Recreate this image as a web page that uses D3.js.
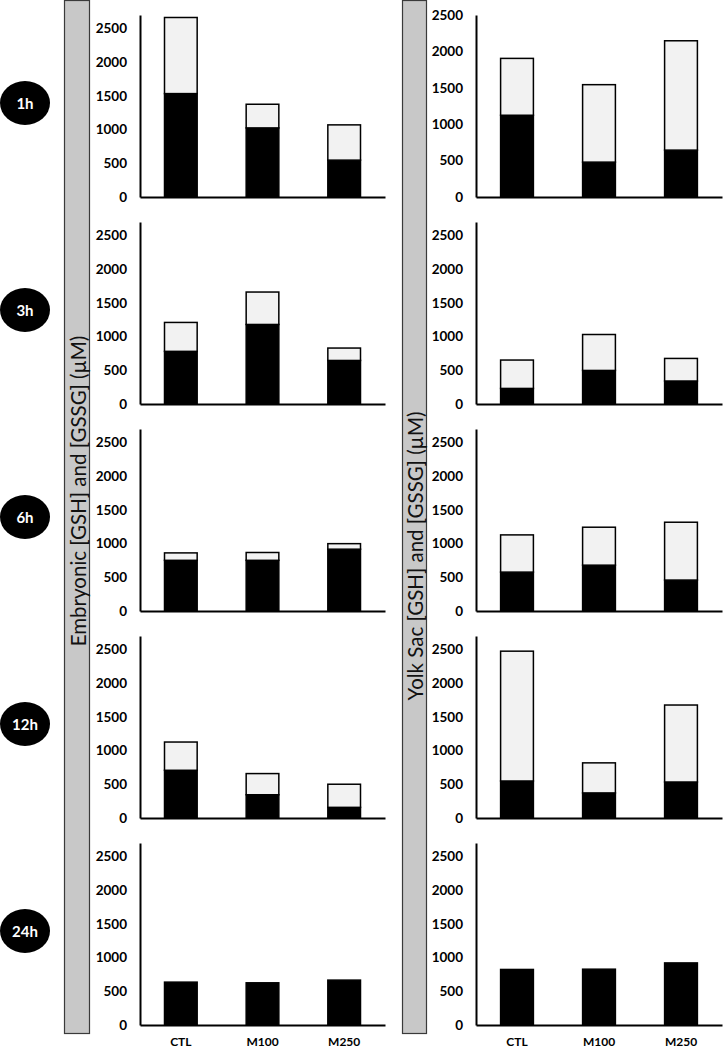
<!DOCTYPE html>
<html>
<head>
<meta charset="utf-8">
<script src="https://cdn.jsdelivr.net/npm/d3@7"></script>
<style>
  html, body { margin: 0; padding: 0; background: #fff; }
  svg { display: block; }
</style>
</head>
<body>
<script>
// ---------- DATA ----------
const categories = ["CTL", "M100", "M250"];
const timeLabels = ["1h", "3h", "6h", "12h", "24h"];
const yTicks = [0, 500, 1000, 1500, 2000, 2500];

// Embryonic (left column): lower black segment and upper light segment, per time point
const embryoGSH  = [[1534, 1025, 547], [781, 1180, 646], [752, 752, 917], [708, 345, 158], [636, 626, 666]];
const embryoGSSG = [[1129, 351, 523], [429, 481, 184], [110, 116, 82], [419, 314, 343], [0, 0, 0]];
// Yolk sac (right column)
const yolkGSH  = [[1123, 479, 644], [231, 498, 341], [577, 680, 459], [549, 372, 534], [824, 828, 921]];
const yolkGSSG = [[781, 1064, 1502], [421, 533, 335], [552, 563, 858], [1926, 446, 1142], [0, 0, 0]];

// Axis maxima per panel
const embryoMax = [2700, 2700, 2700, 2700, 2700];
const yolkMax   = [2500, 2700, 2700, 2700, 2700];

const leftTitle  = "Embryonic [GSH] and [GSSG] (µM)";
const rightTitle = "Yolk Sac [GSH] and [GSSG] (µM)";

// ---------- LAYOUT ----------
const W = 723, H = 1050;
const svg = d3.select("body").append("svg").attr("width", W).attr("height", H);
const FONT = "Lato, 'Open Sans', sans-serif";

const rowTop0 = 15, rowStep = 207, plotH = 182;

const columns = [
  { gsh: embryoGSH, gssg: embryoGSSG, max: embryoMax, x0: 140, x1: 385, barX: 64, barW: 25, title: leftTitle, titleY: 491 },
  { gsh: yolkGSH,   gssg: yolkGSSG,   max: yolkMax,   x0: 476, x1: 722, barX: 402, barW: 24, title: rightTitle, titleY: 556 }
];

// gray label bars
columns.forEach(c => {
  svg.append("rect")
    .attr("x", c.barX + 0.5).attr("y", 0.5)
    .attr("width", c.barW).attr("height", 1033)
    .attr("fill", "#c8c8c8").attr("stroke", "#3a3a3a").attr("stroke-width", 1.2);
  svg.append("text")
    .attr("transform", `translate(${c.barX + c.barW / 2 + 1},${c.titleY}) rotate(-90)`)
    .attr("text-anchor", "middle").attr("dominant-baseline", "central")
    .attr("font-family", FONT).attr("font-size", 20.5).attr("fill", "#111")
    .text(c.title);
});

// time badges
timeLabels.forEach((t, i) => {
  const cy = 103 + rowStep * i;
  svg.append("ellipse").attr("cx", 25).attr("cy", cy).attr("rx", 25).attr("ry", 22).attr("fill", "#000");
  svg.append("text").attr("x", 25).attr("y", cy)
    .attr("text-anchor", "middle").attr("dominant-baseline", "central")
    .attr("font-family", FONT).attr("font-weight", 700).attr("font-size", 15).attr("fill", "#fff")
    .text(t);
});

// panels
columns.forEach(c => {
  const x = d3.scaleBand().domain(categories).range([c.x0, c.x1]).paddingInner(0.6).paddingOuter(0.3);
  timeLabels.forEach((t, i) => {
    const top = rowTop0 + rowStep * i;
    const zero = top + plotH;
    const y = d3.scaleLinear().domain([0, c.max[i]]).range([zero, top]);
    const g = svg.append("g");

    const stackData = categories.map((cat, j) => ({ cat, gsh: c.gsh[i][j], gssg: c.gssg[i][j] }));
    const series = d3.stack().keys(["gsh", "gssg"])(stackData);
    const fills = { gsh: "#000", gssg: "#f2f2f2" };

    series.forEach(s => {
      g.selectAll(null).data(s.filter(d => d[1] - d[0] > 0)).join("rect")
        .attr("x", d => x(d.data.cat))
        .attr("width", x.bandwidth())
        .attr("y", d => y(d[1]))
        .attr("height", d => y(d[0]) - y(d[1]))
        .attr("fill", fills[s.key])
        .attr("stroke", "#000").attr("stroke-width", 1.5);
    });

    // y axis
    const ya = g.append("g").attr("transform", `translate(${c.x0},0)`)
      .call(d3.axisLeft(y).tickValues(yTicks).tickFormat(d3.format("d")).tickSize(0).tickSizeOuter(0).tickPadding(13));
    ya.select(".domain").attr("stroke", "#000").attr("stroke-width", 2);
    ya.selectAll("text").attr("font-family", FONT).attr("font-weight", 700).attr("font-size", 13.5).attr("fill", "#000");

    // x axis
    const xa = g.append("g").attr("transform", `translate(0,${zero})`)
      .call(d3.axisBottom(x).tickSize(0).tickSizeOuter(0).tickPadding(12));
    xa.select(".domain").attr("stroke", "#000").attr("stroke-width", 2);
    xa.selectAll("text").attr("font-family", FONT).attr("font-weight", 700).attr("font-size", 12).attr("fill", "#000");
    if (i < timeLabels.length - 1) xa.selectAll(".tick text").remove();
  });
});
</script>
</body>
</html>
